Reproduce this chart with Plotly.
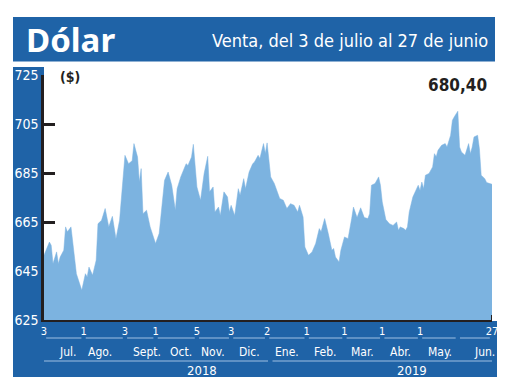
import plotly.graph_objects as go

# ---- data (trading-day index from 3 Jul 2018 = 0 to 27 Jun 2019 = 249) ----
day = [0, 3, 4, 5, 7, 8, 9, 11, 12, 13, 15, 17, 18, 21, 23, 24, 25, 27, 29, 30,
       32, 34, 36, 38, 40, 42, 44, 45, 47, 49, 50, 52, 53, 54, 55, 57, 59, 62, 64, 66,
       67, 69, 71, 73, 74, 76, 79, 80, 82, 83, 85, 87, 89, 91, 92, 94, 95, 97, 98, 100,
       102, 103, 104, 106, 108, 109, 111, 112, 114, 116, 117, 119, 120, 122, 123, 124, 126, 128, 130, 131,
       133, 135, 137, 139, 141, 142, 144, 145, 147, 149, 151, 153, 154, 156, 158, 160, 161, 162, 164, 165,
       167, 169, 171, 172, 174, 176, 178, 180, 181, 182, 184, 186, 187, 188, 190, 192, 194, 196, 197, 198,
       200, 201, 202, 203, 205, 207, 208, 209, 210, 211, 212, 214, 216, 217, 218, 219, 221, 223, 224, 226,
       227, 228, 230, 231, 232, 234, 236, 237, 238, 239, 241, 242, 243, 245, 246, 249]
venta = [651.4, 656.8, 655.5, 648.0, 652.8, 648.0, 650.7, 653.5, 663.0, 661.0, 663.0, 649.4, 643.9, 637.1, 643.9, 642.6, 646.6, 643.3, 649.4, 664.3,
         665.7, 670.5, 663.0, 667.3, 658.2, 665.7, 684.8, 692.2, 688.8, 690.0, 697.0, 691.5, 681.3, 686.8, 668.4, 669.8, 663.0, 656.2, 660.3, 675.9,
         682.0, 685.4, 680.0, 669.8, 678.6, 683.4, 688.8, 688.1, 691.5, 696.7, 679.3, 673.9, 684.8, 691.8, 677.3, 679.3, 669.1, 671.1, 667.7, 677.3,
         675.2, 669.1, 671.8, 667.7, 678.6, 675.9, 682.7, 678.6, 685.4, 688.8, 689.5, 692.2, 690.9, 697.0, 693.0, 697.3, 683.4, 680.7, 676.6, 674.6,
         673.9, 670.5, 672.5, 671.8, 669.1, 671.8, 667.0, 654.8, 651.4, 652.8, 656.2, 662.3, 661.0, 666.4, 660.3, 653.5, 654.2, 650.7, 648.7, 653.5,
         658.9, 658.2, 666.4, 671.1, 666.8, 670.8, 666.8, 666.4, 668.4, 680.0, 680.7, 683.4, 680.0, 673.2, 666.0, 664.3, 663.6, 665.0, 661.6, 663.0,
         662.3, 661.6, 663.0, 669.1, 675.2, 678.6, 680.0, 677.9, 681.3, 678.6, 684.1, 684.8, 687.5, 692.9, 691.6, 694.3, 696.3, 697.0, 695.6, 700.4,
         706.5, 707.9, 710.2, 695.6, 693.6, 692.2, 697.0, 692.9, 695.6, 699.7, 700.4, 694.9, 684.1, 682.7, 681.1, 680.4]

tick_day = [0, 22, 45, 62, 85, 104, 124, 146, 167, 188, 209, 249]
tick_text = ["3", "1", "3", "1", "5", "3", "2", "1", "1", "1", "1", "27"]
month_bounds = [0, 22, 45, 62, 85, 104, 124, 146, 167, 188, 209, 230, 249]
month_pos = [13, 31, 57, 76, 94, 114, 135, 156, 177, 198, 220, 245]
month_text = ["Jul.", "Ago.", "Sept.", "Oct.", "Nov.", "Dic.", "Ene.", "Feb.", "Mar.", "Abr.", "May.", "Jun."]
year_bounds = [(0, 124.5), (127, 249)]
year_pos = [88, 204.5]
year_text = ["2018", "2019"]
y_ticks = [625, 645, 665, 685, 705, 725]
last_value = "680,40"

# ---- layout helpers (positions given in screenshot pixels, page has 8px body margin) ----
OFF = 8
W, H = 520 - OFF, 390 - OFF
L, R, T, B = 44 - OFF, 492 - OFF, 75 - OFF, 320 - OFF
BLUE = "#1f63a7"
FILL = "#7cb3e0"
LINEC = "#9fc0e2"
COND = "Liberation Sans Narrow, DejaVu Sans Condensed, Arial Narrow, sans-serif"


def xp(px):
    return (px - OFF - L) / (R - L)


def yp(py):
    return (B - (py - OFF)) / (B - T)


fig = go.Figure()
fig.add_trace(go.Scatter(x=day, y=venta, mode="lines", fill="tozeroy",
                         line=dict(color=FILL, width=0.5), fillcolor=FILL,
                         hoverinfo="skip"))

shapes = []
shapes.append(dict(type="rect", xref="paper", yref="paper", x0=xp(13), x1=xp(495),
                   y0=yp(61.5), y1=yp(17), fillcolor=BLUE, line=dict(width=0), layer="below"))
shapes.append(dict(type="rect", xref="paper", yref="paper", x0=xp(13), x1=xp(44),
                   y0=yp(377), y1=yp(67), fillcolor=BLUE, line=dict(width=0), layer="below"))
shapes.append(dict(type="rect", xref="paper", yref="paper", x0=xp(13), x1=xp(497),
                   y0=yp(377), y1=yp(321), fillcolor=BLUE, line=dict(width=0), layer="below"))
for a, b in zip(month_bounds[:-1], month_bounds[1:]):
    shapes.append(dict(type="line", xref="x", yref="paper", x0=a + 1.2, x1=b - 1.2,
                       y0=yp(338), y1=yp(338), line=dict(color=LINEC, width=1)))
for a, b in year_bounds:
    shapes.append(dict(type="line", xref="x", yref="paper", x0=a, x1=b,
                       y0=yp(361), y1=yp(361), line=dict(color=LINEC, width=1)))
shapes.append(dict(type="line", xref="x", yref="paper", x0=day[-1], x1=day[-1],
                   y0=yp(321), y1=yp(315), line=dict(color="#231f20", width=2)))

ann = []
ann.append(dict(text="<b>Dólar</b>", xref="paper", yref="paper", x=xp(24), y=yp(39.5),
                xanchor="left", yanchor="middle", showarrow=False,
                font=dict(family="Noto Sans, DejaVu Sans, sans-serif", size=33, color="white")))
ann.append(dict(text="Venta, del 3 de julio al 27 de junio", xref="paper", yref="paper",
                x=xp(490), y=yp(41), xanchor="right", yanchor="middle", showarrow=False,
                font=dict(family=COND, size=18, color="white")))
ann.append(dict(text="<b>($)</b>", xref="paper", yref="paper", x=xp(58), y=yp(77),
                xanchor="left", yanchor="middle", showarrow=False,
                font=dict(family=COND, size=14, color="#231f20")))
ann.append(dict(text="<b>" + last_value + "</b>", xref="paper", yref="paper", x=xp(489), y=yp(85),
                xanchor="right", yanchor="middle", showarrow=False,
                font=dict(family=COND, size=17, color="#231f20")))
for p, t in zip(month_pos, month_text):
    ann.append(dict(text=t, xref="x", yref="paper", x=p, y=yp(352), xanchor="center",
                    yanchor="middle", showarrow=False,
                    font=dict(family=COND, size=12, color="white")))
for p, t in zip(year_pos, year_text):
    ann.append(dict(text=t, xref="x", yref="paper", x=p, y=yp(370), xanchor="center",
                    yanchor="middle", showarrow=False,
                    font=dict(family=COND, size=13, color="white")))

fig.update_layout(
    width=W, height=H,
    margin=dict(l=L, r=W - R, t=T, b=H - B, pad=0, autoexpand=False),
    paper_bgcolor="white", plot_bgcolor="white",
    showlegend=False, shapes=shapes, annotations=ann,
    xaxis=dict(range=[0, 249], showgrid=False, zeroline=False, showline=True,
               automargin=False,
               linecolor="#231f20", linewidth=2, layer="above traces",
               tickmode="array", tickvals=tick_day, ticktext=tick_text, ticks="",
               tickfont=dict(family=COND, size=11, color="white")),
    yaxis=dict(range=[625, 725], showgrid=False, zeroline=False, showline=True,
               automargin=False,
               linecolor="#231f20", linewidth=2.5, layer="below traces",
               tickmode="array", tickvals=y_ticks, ticks="inside", ticklen=11,
               tickwidth=2.5, tickcolor="#231f20", ticklabelstandoff=0,
               tickfont=dict(family=COND, size=14, color="white")),
)

fig.write_html("out.html")
